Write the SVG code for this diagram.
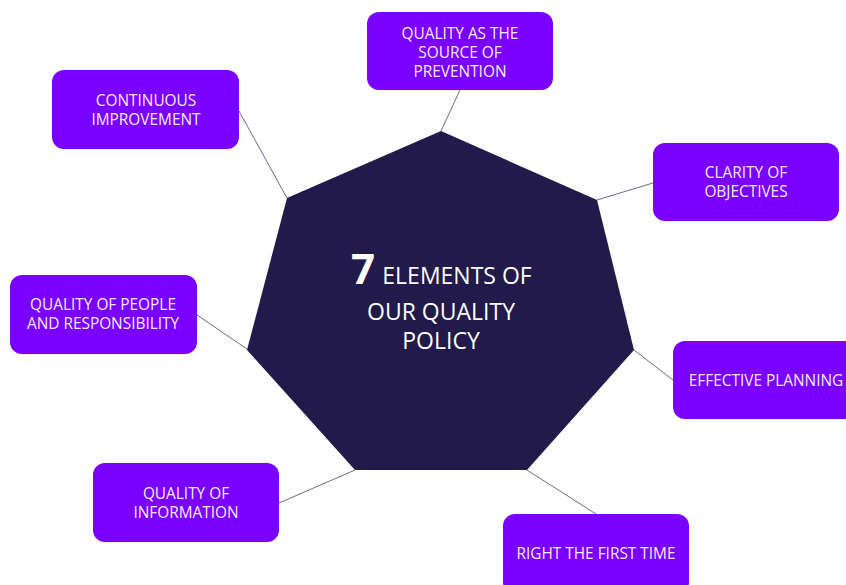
<svg xmlns="http://www.w3.org/2000/svg" width="846" height="585" viewBox="0 0 846 585">
<style>
.box{fill:#7A00FF;}
.lbl{fill:#F4ECFF;font-family:"Open Sans","Liberation Sans",sans-serif;font-size:15.4px;text-anchor:middle;}
.conn line{stroke:#6E6A86;stroke-width:1;}
.ctr{fill:#FFFFFF;font-family:"Open Sans","Liberation Sans",sans-serif;text-anchor:middle;}
</style>
<rect width="846" height="585" fill="#FFFFFF"/>
<g id="connectors" class="conn">
<line x1="460" y1="90" x2="441" y2="131"/>
<line x1="239" y1="111" x2="287" y2="198"/>
<line x1="653" y1="183" x2="597" y2="200"/>
<line x1="197" y1="315" x2="247" y2="349"/>
<line x1="673" y1="380" x2="634" y2="350"/>
<line x1="279" y1="503" x2="355" y2="470"/>
<line x1="596" y1="514" x2="527" y2="470"/>
</g>
<g id="center">
<polygon points="441,131 597,200 634,350 527,470 355,470 247,350 287,198" fill="#211A4A"/>
<text class="ctr" x="363" y="284" font-size="42" font-weight="bold">7</text>
<text class="ctr" x="457" y="284" font-size="23">ELEMENTS OF</text>
<text class="ctr" x="441" y="320" font-size="23">OUR QUALITY</text>
<text class="ctr" x="441" y="349" font-size="23">POLICY</text>
</g>
<g id="n-prevention">
<rect class="box" x="367" y="12" width="186" height="78" rx="12"/>
<text class="lbl" x="460" y="38.5">QUALITY AS THE</text>
<text class="lbl" x="460" y="57.5">SOURCE OF</text>
<text class="lbl" x="460" y="76.5">PREVENTION</text>
</g>
<g id="n-continuous">
<rect class="box" x="52" y="70" width="187" height="79" rx="12"/>
<text class="lbl" x="146" y="106">CONTINUOUS</text>
<text class="lbl" x="146" y="125">IMPROVEMENT</text>
</g>
<g id="n-clarity">
<rect class="box" x="653" y="143" width="186" height="78" rx="12"/>
<text class="lbl" x="746" y="178">CLARITY OF</text>
<text class="lbl" x="746" y="197">OBJECTIVES</text>
</g>
<g id="n-people">
<rect class="box" x="10" y="275" width="187" height="79" rx="12"/>
<text class="lbl" x="103" y="309.5">QUALITY OF PEOPLE</text>
<text class="lbl" x="103" y="329">AND RESPONSIBILITY</text>
</g>
<g id="n-planning">
<rect class="box" x="673" y="341" width="186" height="78" rx="12"/>
<text class="lbl" x="766" y="386">EFFECTIVE PLANNING</text>
</g>
<g id="n-information">
<rect class="box" x="93" y="463" width="186" height="79" rx="12"/>
<text class="lbl" x="186" y="499">QUALITY OF</text>
<text class="lbl" x="186" y="518">INFORMATION</text>
</g>
<g id="n-first-time">
<rect class="box" x="503" y="514" width="186" height="80" rx="12"/>
<text class="lbl" x="596" y="559">RIGHT THE FIRST TIME</text>
</g>
</svg>
